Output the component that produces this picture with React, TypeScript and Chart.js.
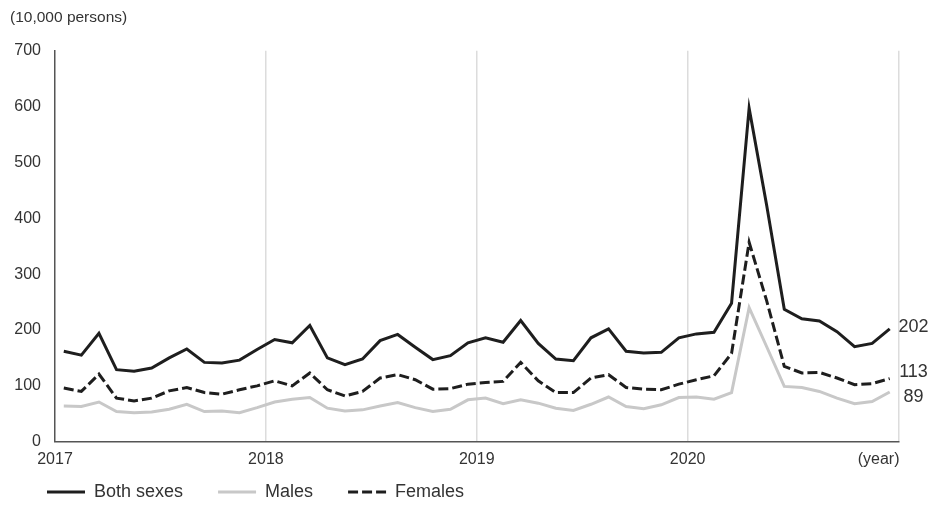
import { useEffect, useRef } from 'react';
import { Chart, registerables } from 'chart.js';

Chart.register(...registerables);

const years = ['2017', '2018', '2019', '2020'];
const unitLabel = '(10,000 persons)';
const axisEndLabel = '(year)';
const seriesNames = ['Both sexes', 'Males', 'Females'];
const yMin = 0;
const yMax = 700;
const yStep = 100;

// Monthly values, Jan 2017 – Dec 2020 (10,000 persons)
const bothSexes = [
  162, 155, 194, 129, 126, 132, 150, 166, 142, 141, 146, 165,
  183, 177, 208, 150, 138, 148, 181, 192, 169, 147, 154, 177,
  186, 178, 217, 176, 148, 145, 186, 202, 162, 159, 160, 186,
  193, 196, 248, 597, 423, 237, 220, 216, 197, 170, 176, 202,
];
const males = [
  64, 63, 71, 54, 52, 53, 58, 67, 54, 55, 52, 61,
  71, 76, 79, 60, 55, 57, 64, 70, 61, 54, 58, 75,
  78, 68, 75, 69, 60, 56, 67, 80, 63, 59, 66, 79,
  80, 76, 88, 240, 170, 99, 97, 90, 78, 68, 72, 89,
];
const females = [
  96, 90, 121, 78, 73, 78, 91, 97, 88, 85, 93, 100,
  109, 100, 123, 93, 82, 90, 114, 120, 111, 94, 95, 103,
  106, 108, 142, 109, 88, 88, 114, 120, 97, 94, 93, 103,
  111, 118, 158, 357, 252, 135, 123, 124, 114, 102, 104, 113,
];

const FONT = "'Liberation Sans', Arial, Helvetica, sans-serif";
const TEXT = '#333333';
const DARK = '#1e1e1e';
const LIGHT = '#c8c8c8';
const endLabelOffsets = [-2, 5, -7];
const LEGEND_PAD = 35;
const LEGEND_CENTER_Y = 492;

export default function App() {
  const ref = useRef<HTMLCanvasElement | null>(null);

  useEffect(() => {
    if (!ref.current) return;
    const pts = (arr: number[]) => arr.map((v, i) => ({ x: i + 0.5, y: v }));
    const monthsPerYear = 12;

    const extras = {
      id: 'extras',
      afterLayout(chart: any) {
        const lg = chart.legend;
        if (lg) {
          const top = LEGEND_CENTER_Y - LEGEND_PAD - 9;
          lg.top = top;
          lg.bottom = chart.height;
          lg.height = chart.height - top;
        }
      },
      afterDraw(chart: any) {
        const { ctx, chartArea, scales } = chart;
        ctx.save();
        ctx.fillStyle = TEXT;
        ctx.font = `15.5px ${FONT}`;
        ctx.textAlign = 'left';
        ctx.textBaseline = 'middle';
        ctx.fillText(unitLabel, 10, 18);
        ctx.font = `16px ${FONT}`;
        ctx.textAlign = 'right';
        ctx.fillText(axisEndLabel, chartArea.right + 1, chartArea.bottom + 18);
        ctx.font = `18px ${FONT}`;
        ctx.textAlign = 'center';
        chart.data.datasets.forEach((ds: any, i: number) => {
          const last = ds.data[ds.data.length - 1].y;
          const y = scales.y.getPixelForValue(last) + endLabelOffsets[i];
          ctx.fillText(String(last), chartArea.right + 15, y);
        });
        ctx.restore();
      },
    };

    const chart = new Chart(ref.current, {
      type: 'line',
      data: {
        datasets: [
          {
            label: seriesNames[0],
            data: pts(bothSexes),
            borderColor: DARK,
            backgroundColor: DARK,
            borderWidth: 3,
            pointRadius: 0,
            tension: 0,
          },
          {
            label: seriesNames[1],
            data: pts(males),
            borderColor: LIGHT,
            backgroundColor: LIGHT,
            borderWidth: 3,
            pointRadius: 0,
            tension: 0,
          },
          {
            label: seriesNames[2],
            data: pts(females),
            borderColor: DARK,
            backgroundColor: DARK,
            borderWidth: 3,
            borderDash: [10, 4],
            pointRadius: 0,
            tension: 0,
          },
        ],
      },
      plugins: [extras],
      options: {
        animation: false,
        responsive: true,
        maintainAspectRatio: false,
        layout: { padding: { left: 12, right: 32.5, top: 50.7, bottom: 0 } },
        scales: {
          x: {
            type: 'linear',
            min: 0,
            max: years.length * monthsPerYear,
            afterFit: (s: any) => { s.height = 62.3; },
            afterBuildTicks: (s: any) => {
              s.ticks = Array.from({ length: years.length + 1 }, (_, k) => ({ value: k * monthsPerYear }));
            },
            ticks: {
              callback: (v: any) => {
                const idx = Number(v) / monthsPerYear;
                return years[idx] ?? '';
              },
              font: { size: 16, family: FONT },
              color: TEXT,
              padding: 8,
              maxRotation: 0,
              autoSkip: false,
            },
            grid: {
              color: (c: any) => (c.tick && c.tick.value === 0 ? 'rgba(0,0,0,0)' : '#dcdcdc'),
              lineWidth: 1.5,
              drawTicks: false,
            },
            border: { display: true, color: '#555555', width: 1.5 },
          },
          y: {
            min: yMin,
            max: yMax,
            afterFit: (s: any) => { s.width = 43; },
            ticks: {
              stepSize: yStep,
              font: { size: 16, family: FONT },
              color: TEXT,
              padding: 14,
            },
            grid: { display: false, drawTicks: false },
            border: { display: true, color: '#555555', width: 1.5 },
          },
        },
        plugins: {
          legend: {
            position: 'bottom',
            align: 'start',
            maxHeight: 1,
            labels: {
              usePointStyle: true,
              pointStyle: 'line',
              pointStyleWidth: 38,
              padding: LEGEND_PAD,
              font: { size: 18, family: FONT },
              color: TEXT,
              generateLabels: (ch: any) => {
                const base = (Chart as any).defaults.plugins.legend.labels.generateLabels(ch);
                return base.map((it: any, i: number) => {
                  const ds = ch.data.datasets[i];
                  return {
                    ...it,
                    lineDash: ds.borderDash || [],
                    lineWidth: ds.borderWidth,
                    strokeStyle: ds.borderColor,
                    fillStyle: ds.borderColor,
                    pointStyle: 'line',
                  };
                });
              },
            },
          },
          tooltip: { enabled: false },
        },
      },
    } as any);
    return () => chart.destroy();
  }, []);

  return (
    <div style={{ position: 'fixed', left: 0, top: 0, width: 931, height: 505, background: '#fff' }}>
      <canvas ref={ref} />
    </div>
  );
}
